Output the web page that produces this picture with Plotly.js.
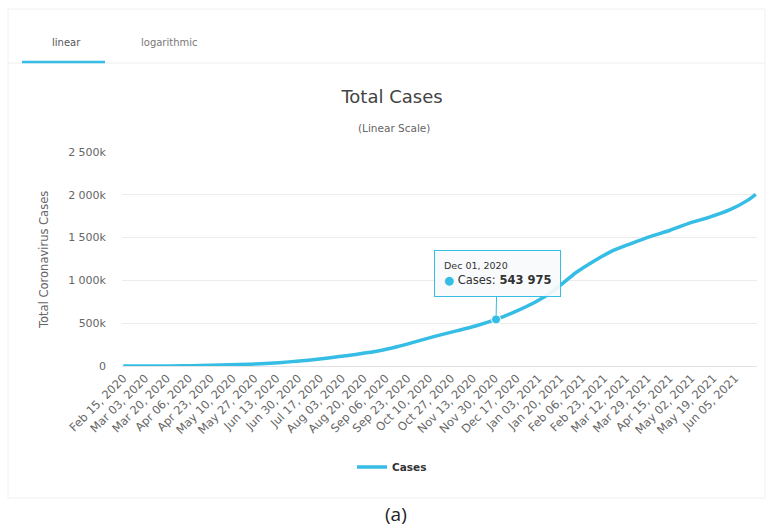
<!DOCTYPE html>
<html>
<head>
<meta charset="utf-8">
<script src="https://cdn.plot.ly/plotly-3.0.1.min.js"></script>
<style>html,body{margin:0;padding:0;background:#fff;}#chart{width:770px;height:528px;}</style>
</head>
<body>
<div id="chart"></div>
<script>
// Data (cumulative cases)
const dates = ['2020-02-15','2020-03-01','2020-03-15','2020-04-01','2020-04-15','2020-05-01','2020-05-15','2020-06-01','2020-06-15','2020-07-01','2020-07-15','2020-08-01','2020-08-15','2020-09-01','2020-09-15','2020-10-01','2020-10-15','2020-11-01','2020-11-15','2020-12-01','2020-12-15','2021-01-01','2021-01-15','2021-02-01','2021-02-15','2021-03-01','2021-03-15','2021-04-01','2021-04-15','2021-05-01','2021-05-15','2021-06-01','2021-06-15','2021-06-21'];
const cases = [0,0,117,1677,5136,10551,16496,26940,39294,57770,78572,109936,137468,177571,225030,291182,349160,412784,467113,543975,629429,751270,882418,1089308,1223930,1341314,1425044,1517854,1583182,1672880,1734285,1826527,1937652,2004445];
const tickDates = ['2020-02-15','2020-03-03','2020-03-20','2020-04-06','2020-04-23','2020-05-10','2020-05-27','2020-06-13','2020-06-30','2020-07-17','2020-08-03','2020-08-20','2020-09-06','2020-09-23','2020-10-10','2020-10-27','2020-11-13','2020-11-30','2020-12-17','2021-01-03','2021-01-20','2021-02-06','2021-02-23','2021-03-12','2021-03-29','2021-04-15','2021-05-02','2021-05-19','2021-06-05'];
const tickLabels = ['Feb 15, 2020','Mar 03, 2020','Mar 20, 2020','Apr 06, 2020','Apr 23, 2020','May 10, 2020','May 27, 2020','Jun 13, 2020','Jun 30, 2020','Jul 17, 2020','Aug 03, 2020','Aug 20, 2020','Sep 06, 2020','Sep 23, 2020','Oct 10, 2020','Oct 27, 2020','Nov 13, 2020','Nov 30, 2020','Dec 17, 2020','Jan 03, 2021','Jan 20, 2021','Feb 06, 2021','Feb 23, 2021','Mar 12, 2021','Mar 29, 2021','Apr 15, 2021','May 02, 2021','May 19, 2021','Jun 05, 2021'];
const yTickVals = [0,500000,1000000,1500000,2000000,2500000];
const yTickLabels = ['0','500k','1 000k','1 500k','2 000k','2 500k'];
const hoverIndex = 19; // Dec 01, 2020
const hoverLabel = 'Dec 01, 2020';
const hoverValueText = '543 975';

const lineColor = '#35bde5';
const font = '"DejaVu Sans", Verdana, sans-serif';

const traces = [
  {
    x: dates, y: cases, type: 'scatter', mode: 'lines', name: '<b>Cases</b>',
    line: {color: lineColor, width: 3.5, shape: 'spline', smoothing: 0.6},
    hoverinfo: 'skip'
  },
  {
    x: [dates[hoverIndex]], y: [cases[hoverIndex]], type: 'scatter', mode: 'markers',
    marker: {color: lineColor, size: 9, line: {color: '#ffffff', width: 1}},
    showlegend: false, hoverinfo: 'skip'
  }
];

const layout = {
  width: 770, height: 528,
  paper_bgcolor: '#ffffff', plot_bgcolor: '#ffffff',
  margin: {l: 122, r: 13, t: 152, b: 162},
  font: {family: font, color: '#666666', size: 10},
  title: {text: 'Total Cases', x: 392/770, xanchor: 'center', xref: 'container', y: 1 - 97/528, yanchor: 'middle', yref: 'container',
          font: {family: font, size: 18, color: '#444444', weight: 'normal'}},
  showlegend: true,
  legend: {orientation: 'h', x: (392-122)/635, xanchor: 'center', y: (366-467)/214, yanchor: 'middle',
           font: {family: font, size: 10.5, color: '#333333'}, itemwidth: 30},
  xaxis: {
    type: 'date', range: ['2020-02-14', '2021-06-22'],
    tickmode: 'array', tickvals: tickDates, ticktext: tickLabels, tickangle: -45,
    tickfont: {size: 11.5, color: '#666666', family: font},
    showgrid: false, zeroline: false, showline: true, linecolor: '#e3e3e3', linewidth: 1,
    ticks: '', fixedrange: true
  },
  yaxis: {
    range: [0, 2500000], tickmode: 'array', tickvals: yTickVals, ticktext: yTickLabels,
    tickfont: {size: 11, color: '#666666', family: font},
    showgrid: true, gridcolor: '#ececec', gridwidth: 1, zeroline: false, showline: false,
    ticks: '', ticklabelstandoff: 15, fixedrange: true
  },
  annotations: [
    {text: '(Linear Scale)', xref: 'paper', yref: 'paper', x: (394-122)/635, y: (366-128)/214, showarrow: false,
     font: {family: font, size: 10.5, color: '#666666'}, xanchor: 'center', yanchor: 'middle'},
    {text: 'Total Coronavirus Cases', xref: 'paper', yref: 'paper', x: (44-122)/635, y: (366-260)/214, showarrow: false,
     textangle: -90, font: {family: font, size: 11.5, color: '#666666'}, xanchor: 'center', yanchor: 'middle'},
    {text: 'linear', xref: 'paper', yref: 'paper', x: (66-122)/635, y: (366-42)/214, showarrow: false,
     font: {family: font, size: 10, color: '#555555'}, xanchor: 'center', yanchor: 'middle'},
    {text: 'logarithmic', xref: 'paper', yref: 'paper', x: (169-122)/635, y: (366-42)/214, showarrow: false,
     font: {family: font, size: 10, color: '#777777'}, xanchor: 'center', yanchor: 'middle'},
    {text: '(a)', xref: 'paper', yref: 'paper', x: (396-122)/635, y: (366-514)/214, showarrow: false,
     font: {family: '"Open Sans", sans-serif', size: 19, color: '#222222'}, xanchor: 'center', yanchor: 'middle'},
    {text: '<span style="font-size:9.5px">' + hoverLabel + '</span><br><span style="color:' + lineColor + '">●</span> Cases: <b>' + hoverValueText + '</b>',
     x: dates[hoverIndex], y: cases[hoverIndex], xref: 'x', yref: 'y',
     showarrow: true, ax: 1, ay: -46, arrowhead: 0, arrowwidth: 1, arrowcolor: lineColor, standoff: 4,
     align: 'left', bgcolor: 'rgba(248,250,251,0.92)', bordercolor: lineColor, borderwidth: 1, borderpad: 9,
     font: {family: font, size: 11.5, color: '#333333'}}
  ],
  shapes: [
    {type: 'line', xref: 'paper', yref: 'paper', x0: (8-122)/635, x1: (765-122)/635, y0: (366-63)/214, y1: (366-63)/214,
     line: {color: '#eeeeee', width: 1}},
    {type: 'line', xref: 'paper', yref: 'paper', x0: (22-122)/635, x1: (105-122)/635, y0: (366-62)/214, y1: (366-62)/214,
     line: {color: '#35bde5', width: 2.5}},
    {type: 'rect', xref: 'paper', yref: 'paper', x0: (8-122)/635, x1: (765-122)/635, y0: (366-498)/214, y1: (366-9)/214,
     line: {color: '#f0f0f0', width: 1}, fillcolor: 'rgba(0,0,0,0)'}
  ]
};

Plotly.newPlot('chart', traces, layout, {displayModeBar: false, staticPlot: true});
</script>
</body>
</html>
